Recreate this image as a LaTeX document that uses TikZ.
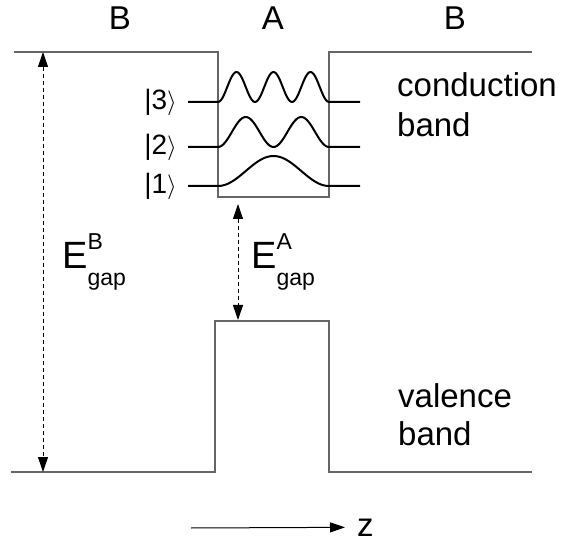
\documentclass[tikz,border=0pt]{standalone}
\usepackage{fontspec}
\setmainfont{Liberation Sans}
\usetikzlibrary{arrows.meta}

\newcommand{\gapsym}[1]{E\rlap{\raisebox{19pt}{\fontsize{23}{23}\selectfont #1}}%
  \raisebox{-17pt}{\fontsize{23}{23}\selectfont gap}}

\begin{document}
\begin{tikzpicture}[x=1pt,y=-1pt,
     edge/.style={draw=black!60,line width=1.2pt},
     wave/.style={line width=2pt,line join=round},
     gaparrow/.style={{Triangle[length=15pt,width=10pt]}-{Triangle[length=15pt,width=10pt]},
       dash pattern=on 4pt off 3pt,line width=1pt},
     lab/.style={font=\fontsize{33}{40}\selectfont,inner sep=0pt,anchor=base},
     ket/.style={font=\fontsize{28}{28}\selectfont,inner sep=0pt,anchor=east},
     elab/.style={font=\fontsize{38}{38}\selectfont,inner sep=0pt,anchor=base west}]
    \useasboundingbox (0,0) rectangle (568,540);
    \node[lab] (bl) at (120,30) {B};
    \node[lab] (a) at (273,30) {A};
    \node[lab] (br) at (455,30) {B};
    % conduction band
    \draw[edge] (14,52) -- (218,52) -- (218,197) -- (329,197) -- (329,52) -- (532,52);
    % valence band
    \draw[edge] (11,472) -- (215,472) -- (215,321) -- (329,321) -- (329,472) -- (532,472);
    % confined levels
    \foreach \n/\yb in {1/186,2/147,3/102}{
      \node[ket] (k\n) at (177,\yb) {\textbar\n$\rangle$};
      \draw[wave] ([xshift=11pt]k\n.east) -- (218,\yb)
        -- plot[domain=218:329,samples=80] (\x,{\yb-30*pow(sin((\x-218)/111*180*\n),2)})
        -- (360,\yb);
    }
    \node[lab,anchor=base west] (cond) at (397,97) {conduction};
    \node[lab,anchor=base west] (cband) at (397,137) {band};
    \node[lab,anchor=base west] (val) at (398,407) {valence};
    \node[lab,anchor=base west] (vband) at (398,445) {band};
    % gaps
    \coordinate (bt) at (43,52); \coordinate (bb) at (43,472);
    \draw[gaparrow] (bt) -- (bb);
    \coordinate (at) at (238,204); \coordinate (ab) at (238,320);
    \draw[gaparrow] (at) -- (ab);
    \node[elab] (eb) at (62,269) {\gapsym{B}};
    \node[elab] (ea) at (251,269) {\gapsym{A}};
    % growth axis
    \coordinate (zs) at (191,528);
    \node[lab,anchor=base west] (z) at (357,536) {z};
    \draw[-{Triangle[length=15pt,width=10pt]},line width=1pt,shorten >=12pt] (zs) -- (z.west);
  \end{tikzpicture}
\end{document}
